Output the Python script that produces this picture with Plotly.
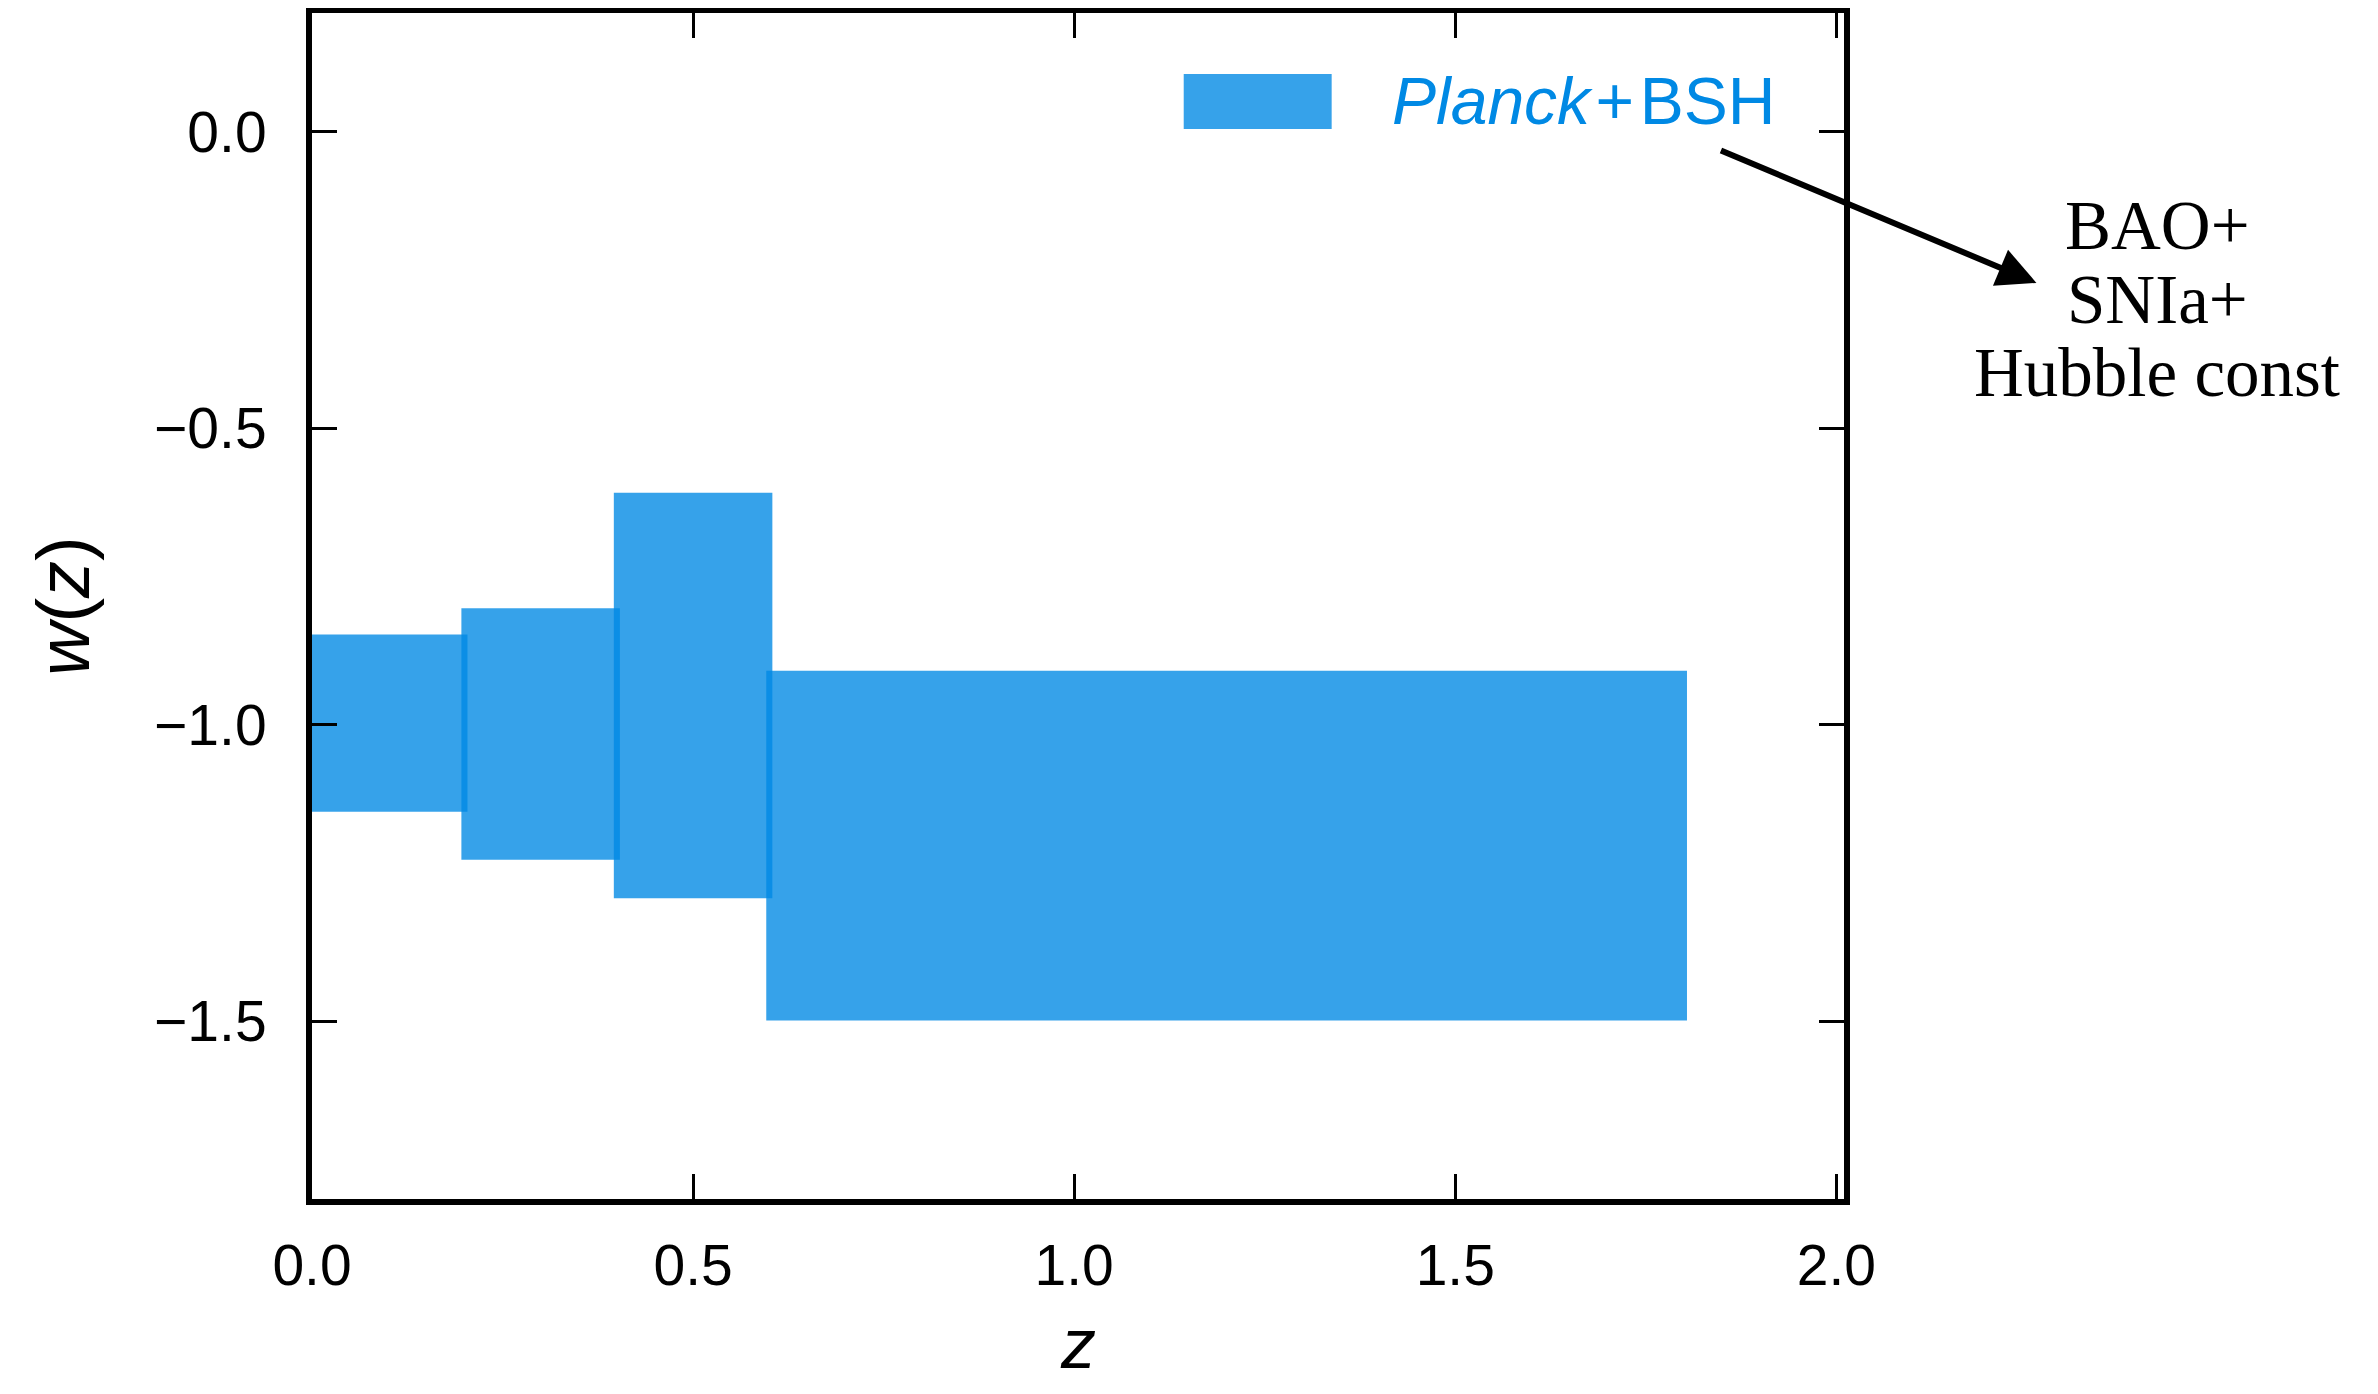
import plotly.graph_objects as go

# ---- data ----
z_edges = [0.0, 0.2, 0.4, 0.6, 1.8]          # redshift bin edges
w_upper = [-0.848, -0.804, -0.609, -0.909]    # upper bound of w(z) in each bin
w_lower = [-1.147, -1.228, -1.293, -1.499]    # lower bound of w(z) in each bin
x_ticks = [0.0, 0.5, 1.0, 1.5, 2.0]
x_tick_text = ["0.0", "0.5", "1.0", "1.5", "2.0"]
y_ticks = [0.0, -0.5, -1.0, -1.5]
y_tick_text = ["0.0", "\u22120.5", "\u22121.0", "\u22121.5"]
legend_label = "<i>Planck</i>\u200a+\u200aBSH"
note_lines = ["BAO+", "SNIa+", "Hubble const"]

# ---- style / layout (page pixel targets) ----
PAGE_W, PAGE_H = 2378, 1394
OFF = 8                       # browser body margin
W, H = PAGE_W - 2 * OFF, PAGE_H - 2 * OFF
PLOT_L, PLOT_R, PLOT_T, PLOT_B = 312, 1844.5, 13, 1199.5   # page coords of the axes box
ML, MT = PLOT_L - OFF, PLOT_T - OFF
PW, PH = PLOT_R - PLOT_L, PLOT_B - PLOT_T
MR, MB = W - ML - PW, H - MT - PH
base = "rgb(0,137,228)"
fill = "rgba(0,137,228,0.79)"
pad = 0.004  # edge half-width of the filled patches (data units)
sans = "Liberation Sans"
serif = "Liberation Serif"

def px2paper_x(px):
    return (px - PLOT_L) / PW

def px2paper_y(py):
    return (PLOT_B - py) / PH

fig = go.Figure()
for i in range(len(w_upper)):
    x0, x1 = z_edges[i] - pad, z_edges[i + 1] + pad
    lo, hi = w_lower[i], w_upper[i]
    fig.add_trace(go.Scatter(
        x=[x0, x1, x1, x0, x0], y=[lo, lo, hi, hi, lo],
        mode="lines", line=dict(width=0, color=fill),
        fill="toself", fillcolor=fill, hoverinfo="skip", showlegend=False))

axis_common = dict(showline=True, linewidth=6, linecolor="black", mirror="ticks",
                   ticks="inside", ticklen=25, tickwidth=2.7, tickcolor="black",
                   showgrid=False, zeroline=False,
                   tickfont=dict(family=sans, size=57, color="black"))

fig.update_xaxes(range=[0, 2.01], tickvals=x_ticks, ticktext=x_tick_text,
                 ticklabelstandoff=12, **axis_common)
fig.update_yaxes(range=[-1.8, 0.2], tickvals=y_ticks, ticktext=y_tick_text,
                 ticklabelstandoff=28, **axis_common)

annotations = []
# axis titles
annotations.append(dict(text="<i>z</i>", xref="paper", yref="paper", x=0.5, y=0,
                        xanchor="center", yanchor="bottom", yshift=-MB + 1, showarrow=False,
                        font=dict(family=sans, size=70, color="black")))
annotations.append(dict(text="<i>w</i>(<i>z</i>)", xref="paper", yref="paper", x=0, y=0.5,
                        xanchor="center", yanchor="middle", xshift=-(PLOT_L - 63), textangle=-90,
                        showarrow=False, font=dict(family=sans, size=74, color="black")))
# legend text
annotations.append(dict(text=legend_label, xref="paper", yref="paper",
                        x=px2paper_x(1390), y=px2paper_y(101), xanchor="left", yanchor="middle",
                        showarrow=False, font=dict(family=sans, size=66, color=base)))
# arrow
annotations.append(dict(text="", xref="paper", yref="paper",
                        x=px2paper_x(2037), y=px2paper_y(283), ax=1720 - 2037, ay=150 - 283,
                        axref="pixel", ayref="pixel", showarrow=True, arrowhead=2,
                        arrowsize=1.3, arrowwidth=6, arrowcolor="black", standoff=0))
# note text
for line, py in zip(note_lines, [226, 300, 373]):
    annotations.append(dict(text=line, xref="paper", yref="paper",
                            x=px2paper_x(2158), y=px2paper_y(py), xanchor="center",
                            yanchor="middle", showarrow=False,
                            font=dict(family=serif, size=69, color="black")))

shapes = [dict(type="rect", xref="paper", yref="paper",
               x0=px2paper_x(1184), x1=px2paper_x(1332),
               y0=px2paper_y(129), y1=px2paper_y(74),
               fillcolor=fill, line=dict(width=0))]

fig.update_layout(width=W, height=H, margin=dict(l=ML, r=MR, t=MT, b=MB, autoexpand=False),
                  paper_bgcolor="white", plot_bgcolor="white",
                  annotations=annotations, shapes=shapes, showlegend=False)

fig.write_html("out.html")
